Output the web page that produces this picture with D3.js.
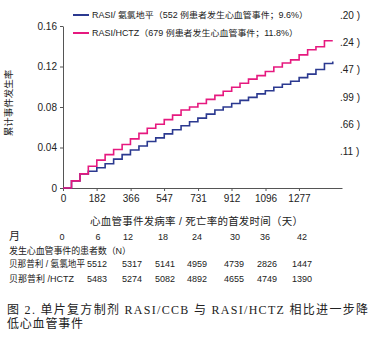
<!DOCTYPE html>
<html>
<head>
<meta charset="utf-8">
<script src="https://cdn.jsdelivr.net/npm/d3@7"></script>
<style>
  body { margin: 0; background: #fff; }
  svg { display: block; }
  text { font-family: "Liberation Sans", Arial, "Noto Sans CJK SC", sans-serif; fill: #222; }
  .axis path, .axis line { stroke: #555; }
  .axis text { font-size: 10px; fill: #222; }
  .cap { font-family: "Liberation Serif", "Noto Sans CJK SC", serif; }
</style>
</head>
<body>
<script>
// data
var days = [0, 46, 92, 137, 183, 228, 274, 320, 365, 411, 456, 502, 548, 593, 639, 685, 730,
            776, 822, 867, 913, 958, 1004, 1050, 1095, 1141, 1187, 1232, 1278, 1324, 1369, 1415, 1460];
var ccbRate = [0, 0.007, 0.014, 0.0165, 0.020, 0.024, 0.0285, 0.033, 0.0375, 0.0415, 0.046, 0.0495,
               0.0535, 0.0575, 0.0615, 0.0655, 0.069, 0.073, 0.077, 0.080, 0.0835, 0.0865, 0.0895,
               0.093, 0.096, 0.0995, 0.1025, 0.1055, 0.109, 0.1125, 0.117, 0.123, 0.125];
var hctzRate = [0, 0.007, 0.014, 0.0215, 0.0275, 0.033, 0.038, 0.043, 0.0485, 0.054, 0.059, 0.063,
                0.0675, 0.072, 0.077, 0.080, 0.0835, 0.0875, 0.0915, 0.0955, 0.0995, 0.1035, 0.1075,
                0.111, 0.115, 0.1195, 0.1235, 0.1265, 0.1315, 0.1365, 0.1395, 0.1455, 0.1455];
var xTicks = [0, 182, 366, 547, 731, 912, 1096, 1277];
var yTicks = [0, 0.04, 0.08, 0.12, 0.16];
var seriesNames = ["RASI/ 氨氯地平（552 例患者发生心血管事件；9.6%）",
                   "RASI/HCTZ（679 例患者发生心血管事件；11.8%）"];
var strayTexts = [".20 )", ".24 )", ".47 )", ".99 )", ".66 )", ".11 )"];
var months = ["0", "6", "12", "18", "24", "30", "36", "42"];
var atRiskCcb = ["5512", "5317", "5141", "4959", "4739", "2826", "1447"];
var atRiskHctz = ["5483", "5274", "5082", "4892", "4655", "4749", "1390"];

var W = 378, H = 337;
var svg = d3.select("body").append("svg").attr("width", W).attr("height", H);
svg.append("rect").attr("width", W).attr("height", H).attr("fill", "#fff");

var x = d3.scaleLinear().domain([0, 1510]).range([63, 342]);
var y = d3.scaleLinear().domain([0, 0.16]).range([188, 26]);
var colors = ["#2b3990", "#e6197f"];

// axes
svg.append("g").attr("class", "axis")
    .attr("transform", "translate(0,188)")
    .call(d3.axisBottom(x).tickValues(xTicks).tickSize(3).tickSizeOuter(0).tickPadding(4)
        .tickFormat(d3.format("d")));
svg.append("g").attr("class", "axis")
    .attr("transform", "translate(63,0)")
    .call(d3.axisLeft(y).tickValues(yTicks).tickSize(3).tickSizeOuter(0).tickPadding(3)
        .tickFormat(function (d) { return d === 0 ? "0" : d3.format(".2f")(d); }));

// lines
var line = d3.line().curve(d3.curveStepAfter)
    .x(function (d) { return x(d[0]); })
    .y(function (d) { return y(d[1]); });
[ccbRate, hctzRate].forEach(function (vals, i) {
    svg.append("path")
        .datum(days.map(function (d, j) { return [d, vals[j]]; }))
        .attr("fill", "none")
        .attr("stroke", colors[i])
        .attr("stroke-width", 1.6)
        .attr("d", line);
});

// legend
seriesNames.forEach(function (t, i) {
    var ly = 15 + i * 18;
    svg.append("line").attr("x1", 73).attr("x2", 89).attr("y1", ly).attr("y2", ly)
        .attr("stroke", colors[i]).attr("stroke-width", 2);
    svg.append("text").attr("x", 92).attr("y", ly + 3)
        .attr("font-size", 8.5)
        .attr("textLength", i === 0 ? 216 : 206)
        .attr("lengthAdjust", "spacingAndGlyphs")
        .text(t);
});

// stray labels at right edge
strayTexts.forEach(function (t, i) {
    svg.append("text").attr("x", 340).attr("y", 19 + i * 27.2)
        .attr("font-size", 10).text(t);
});

// axis titles
svg.append("text")
    .attr("transform", "translate(12,103) rotate(-90)")
    .attr("text-anchor", "middle")
    .attr("font-size", 9.5)
    .text("累计事件发生率");
svg.append("text").attr("x", 90).attr("y", 225)
    .attr("font-size", 10.5)
    .attr("textLength", 213).attr("lengthAdjust", "spacing")
    .text("心血管事件发病率 / 死亡率的首发时间（天）");

// at-risk table
var monthX = [62, 98, 128, 163, 197, 235, 265, 302];
var countX = [97, 132, 165, 197, 234, 267, 302];
svg.append("text").attr("x", 9).attr("y", 240).attr("font-size", 11).text("月");
months.forEach(function (m, i) {
    svg.append("text").attr("x", monthX[i]).attr("y", 240)
        .attr("text-anchor", "middle").attr("font-size", 9).text(m);
});
svg.append("text").attr("x", 9).attr("y", 254).attr("font-size", 9)
    .attr("textLength", 122).attr("lengthAdjust", "spacing")
    .text("发生心血管事件的患者数（N）");
svg.append("text").attr("x", 9).attr("y", 267).attr("font-size", 9)
    .attr("textLength", 76).attr("lengthAdjust", "spacingAndGlyphs")
    .text("贝那普利 / 氨氯地平");
svg.append("text").attr("x", 9).attr("y", 282).attr("font-size", 9).text("贝那普利 /HCTZ");
atRiskCcb.forEach(function (v, i) {
    svg.append("text").attr("x", countX[i]).attr("y", 267)
        .attr("text-anchor", "middle").attr("font-size", 9).text(v);
});
atRiskHctz.forEach(function (v, i) {
    svg.append("text").attr("x", countX[i]).attr("y", 282)
        .attr("text-anchor", "middle").attr("font-size", 9).text(v);
});

// caption
svg.append("text").attr("class", "cap").attr("x", 7).attr("y", 314)
    .attr("font-size", 12).attr("textLength", 361).attr("lengthAdjust", "spacing")
    .text("图 2. 单片复方制剂 RASI/CCB 与 RASI/HCTZ 相比进一步降");
svg.append("text").attr("class", "cap").attr("x", 7).attr("y", 328)
    .attr("font-size", 12).attr("textLength", 76).attr("lengthAdjust", "spacing")
    .text("低心血管事件");
</script>
</body>
</html>
